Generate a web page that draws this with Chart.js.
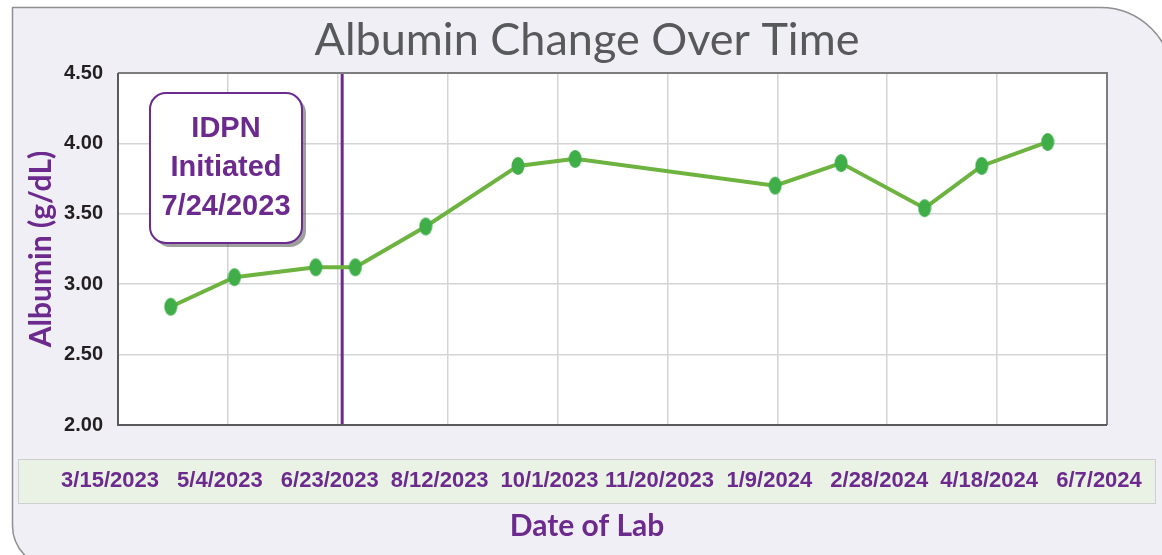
<!DOCTYPE html>
<html>
<head>
<meta charset="utf-8">
<script src="https://cdn.jsdelivr.net/npm/chart.js@4.4.0/dist/chart.umd.min.js"></script>
<style>
  html, body { margin: 0; padding: 0; background: #ffffff; }
  #wrap { width: 1162px; height: 555px; }
</style>
</head>
<body>
<div id="wrap"><canvas id="albChart" width="1162" height="555"></canvas></div>
<script>
// DATA
var labDates = ["4/8/2023", "5/7/2023", "6/13/2023", "7/1/2023", "8/2/2023", "9/13/2023",
  "10/9/2023", "1/8/2024", "2/7/2024", "3/16/2024", "4/11/2024", "5/11/2024"];
var albuminValues = [2.84, 3.05, 3.12, 3.12, 3.41, 3.84, 3.89, 3.70, 3.86, 3.54, 3.84, 4.01];
var axisStart = "3/15/2023";
var axisEnd = "6/7/2024";
var idpnLineDate = "6/25/2023";
var idpnLabel = ["IDPN", "Initiated", "7/24/2023"];
var yTicks = [2.0, 2.5, 3.0, 3.5, 4.0, 4.5];

var purple = "#6c2a8e";
var boldSans = "'Liberation Sans', Arial, sans-serif";
var roundFont = "Lato, 'Noto Sans', sans-serif";

// date helpers (linear axis in days since axisStart)
function toDay(s) {
  var p = s.split("/");
  return Date.UTC(+p[2], +p[0] - 1, +p[1]) / 86400000;
}
function dayLabel(v) {
  var d = new Date((toDay(axisStart) + v) * 86400000);
  return (d.getUTCMonth() + 1) + "/" + d.getUTCDate() + "/" + d.getUTCFullYear();
}
var base = toDay(axisStart);
var points = labDates.map((d, i) => ({ x: toDay(d) - base, y: albuminValues[i] }));
var idpnX = toDay(idpnLineDate) - base;

// oval point marker
var dot = document.createElement("canvas");
dot.width = 14; dot.height = 20;
var dctx = dot.getContext("2d");
dctx.fillStyle = "#3fae49";
dctx.beginPath();
dctx.ellipse(7, 10, 6.5, 9, 0, 0, Math.PI * 2);
dctx.fill();

function roundRect(ctx, x, y, w, h, r) {
  // r = [tl, tr, br, bl]
  ctx.beginPath();
  ctx.moveTo(x + r[0], y);
  ctx.lineTo(x + w - r[1], y);
  ctx.arcTo(x + w, y, x + w, y + r[1], r[1]);
  ctx.lineTo(x + w, y + h - r[2]);
  ctx.arcTo(x + w, y + h, x + w - r[2], y + h, r[2]);
  ctx.lineTo(x + r[3], y + h);
  ctx.arcTo(x, y + h, x, y + h - r[3], r[3]);
  ctx.lineTo(x, y + r[0]);
  ctx.arcTo(x, y, x + r[0], y, r[0]);
  ctx.closePath();
}

// background panel, label band, white plot area
var panelPlugin = {
  id: "panel",
  beforeDraw(chart) {
    var ctx = chart.ctx, a = chart.chartArea;
    ctx.save();
    ctx.fillStyle = "#ffffff";
    ctx.fillRect(0, 0, chart.width, chart.height);
    roundRect(ctx, 12.5, 7.5, 1160, 560, [0, 72, 0, 42]);
    ctx.fillStyle = "#f1eff6";
    ctx.fill();
    ctx.strokeStyle = "#8f8f92";
    ctx.lineWidth = 1.5;
    ctx.stroke();
    ctx.fillStyle = "#e9f2e5";
    ctx.fillRect(18.5, 459.5, 1137, 44);
    ctx.strokeStyle = "#cfcfd2";
    ctx.lineWidth = 1;
    ctx.strokeRect(18.5, 459.5, 1137, 44);
    ctx.fillStyle = "#ffffff";
    ctx.fillRect(a.left, a.top, a.right - a.left, a.bottom - a.top);
    ctx.restore();
  },
  afterDatasetsDraw(chart) {
    var ctx = chart.ctx, a = chart.chartArea;
    ctx.save();
    // plot frame
    ctx.strokeStyle = "#7d7d80";
    ctx.lineWidth = 2;
    ctx.beginPath();
    ctx.moveTo(a.left, a.top);
    ctx.lineTo(a.right, a.top);
    ctx.lineTo(a.right, a.bottom);
    ctx.stroke();
    ctx.strokeStyle = "#5a5a5c";
    ctx.beginPath();
    ctx.moveTo(a.left, a.top);
    ctx.lineTo(a.left, a.bottom);
    ctx.lineTo(a.right, a.bottom);
    ctx.stroke();
    // IDPN callout
    var bx = a.left + 32, by = a.top + 20, bw = 152, bh = 150;
    ctx.fillStyle = "rgba(80,80,80,0.55)";
    roundRect(ctx, bx + 4, by + 4, bw, bh, [16, 16, 16, 16]);
    ctx.fill();
    roundRect(ctx, bx, by, bw, bh, [16, 16, 16, 16]);
    ctx.fillStyle = "#ffffff";
    ctx.fill();
    ctx.strokeStyle = purple;
    ctx.lineWidth = 2;
    ctx.stroke();
    ctx.fillStyle = purple;
    ctx.font = "bold 29px " + boldSans;
    ctx.textAlign = "center";
    ctx.textBaseline = "middle";
    idpnLabel.forEach((t, i) => {
      ctx.fillText(t, bx + bw / 2, by + 36 + i * 39);
    });
    ctx.restore();
  }
};

new Chart("albChart", {
  type: "line",
  data: {
    datasets: [
      {
        label: "Albumin",
        data: points,
        borderColor: "#6db33f",
        borderWidth: 4,
        pointStyle: dot,
        pointRadius: 9,
        tension: 0,
        order: 1
      },
      {
        label: "IDPN",
        data: [{ x: idpnX, y: 2 }, { x: idpnX, y: 4.5 }],
        borderColor: purple,
        borderWidth: 3,
        pointRadius: 0,
        order: 2
      }
    ]
  },
  options: {
    responsive: false,
    animation: false,
    events: [],
    layout: { padding: { left: 12, right: 0, top: 0, bottom: 0 } },
    plugins: {
      legend: { display: false },
      tooltip: { enabled: false },
      title: {
        display: true,
        text: "Albumin Change Over Time",
        color: "#58595b",
        font: { family: roundFont, size: 45, weight: "normal", lineHeight: 1.2 },
        padding: { top: 13, bottom: 6 }
      },
      subtitle: {
        display: true,
        position: "bottom",
        text: "Date of Lab",
        color: purple,
        font: { family: roundFont, size: 30, weight: "bold", lineHeight: 1.2 },
        padding: { top: 0, bottom: 11 }
      }
    },
    scales: {
      x: {
        type: "linear",
        min: 0,
        max: toDay(axisEnd) - base,
        afterBuildTicks(scale) {
          var t = [];
          for (var v = 0; v <= scale.max + 0.5; v += 50) t.push({ value: v });
          scale.ticks = t;
        },
        afterFit(scale) {
          scale.height = 83;
          scale.paddingLeft = 0;
          scale.paddingRight = 55;
        },
        grid: { color: "#d4d4d6", lineWidth: 1.5, drawTicks: false },
        border: { display: false },
        ticks: {
          padding: 43,
          labelOffset: -8,
          color: purple,
          maxRotation: 0,
          autoSkip: false,
          font: { family: boldSans, size: 22, weight: "bold" },
          callback: (v) => dayLabel(v)
        }
      },
      y: {
        min: 2,
        max: 4.5,
        afterBuildTicks(scale) {
          scale.ticks = yTicks.map((v) => ({ value: v }));
        },
        afterFit(scale) { scale.width = 106; },
        grid: { color: "#d4d4d6", lineWidth: 1.5, drawTicks: false },
        border: { display: false },
        ticks: {
          padding: 15,
          color: "#231f20",
          font: { family: boldSans, size: 20, weight: "bold" },
          callback: (v) => v.toFixed(2)
        },
        title: {
          display: true,
          text: "Albumin (g/dL)",
          color: purple,
          font: { family: roundFont, size: 30, weight: "bold" },
          padding: { top: 11, bottom: 0 }
        }
      }
    }
  },
  plugins: [panelPlugin]
});
</script>
</body>
</html>
